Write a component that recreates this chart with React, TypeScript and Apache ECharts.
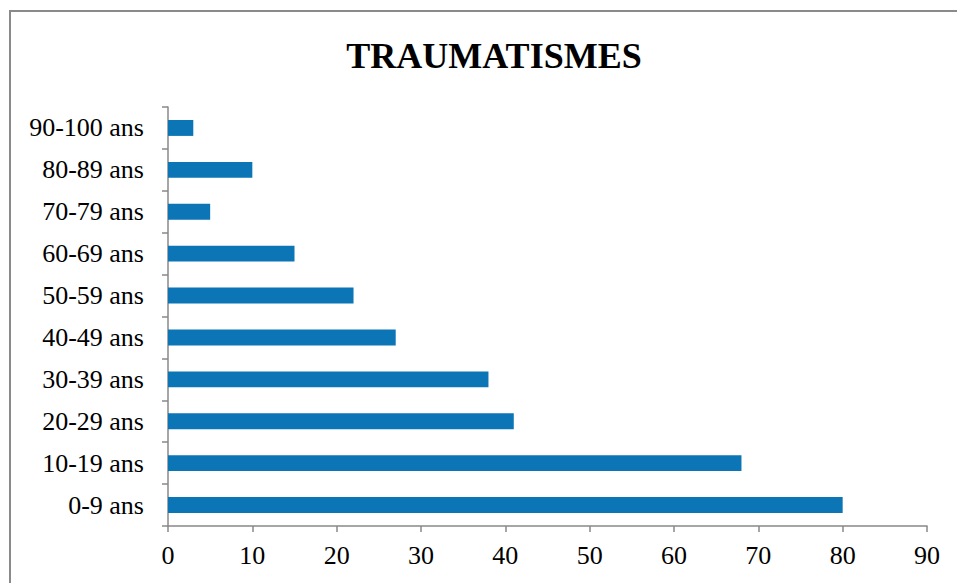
import React, { useEffect, useRef } from "react";
import * as echarts from "echarts";

const categories = [
  "0-9 ans",
  "10-19 ans",
  "20-29 ans",
  "30-39 ans",
  "40-49 ans",
  "50-59 ans",
  "60-69 ans",
  "70-79 ans",
  "80-89 ans",
  "90-100 ans",
];
const values = [80, 68, 41, 38, 27, 22, 15, 5, 10, 3];
const titleText = "TRAUMATISMES";
const xMin = 0;
const xMax = 90;
const xInterval = 10;

export default function App() {
  const ref = useRef<HTMLDivElement>(null);
  useEffect(() => {
    if (!ref.current) return;
    const chart = echarts.init(ref.current, undefined, { renderer: "svg" });
    const font = "'Liberation Serif', 'Times New Roman', serif";
    chart.setOption({
      animation: false,
      backgroundColor: "#ffffff",
      title: {
        text: titleText,
        left: 489,
        top: 33,
        textAlign: "center",
        textStyle: { fontFamily: font, fontSize: 36, fontWeight: "bold", color: "#000" },
      },
      graphic: [
        {
          type: "rect",
          shape: { x: 10, y: 11, width: 1000, height: 1000 },
          style: { fill: "none", stroke: "#8a8a8a", lineWidth: 2 },
          silent: true,
        },
      ],
      grid: { left: 168, right: 30, top: 107, bottom: 57, containLabel: false },
      xAxis: {
        type: "value",
        min: xMin,
        max: xMax,
        interval: xInterval,
        splitLine: { show: false },
        axisLine: { show: true, lineStyle: { color: "#888888", width: 1.5 } },
        axisTick: { show: true, length: 6, lineStyle: { color: "#888888", width: 1.5 } },
        axisLabel: { fontFamily: font, fontSize: 26, color: "#000", margin: 16 },
      },
      yAxis: {
        type: "category",
        data: categories,
        axisLine: { show: true, lineStyle: { color: "#888888", width: 1.5 } },
        axisTick: { show: true, length: 6, lineStyle: { color: "#888888", width: 1.5 } },
        axisLabel: { fontFamily: font, fontSize: 26, color: "#000", margin: 24 },
      },
      series: [
        {
          type: "bar",
          data: values,
          barWidth: "38%",
          itemStyle: { color: "#0b75b6" },
        },
      ],
    });
    return () => chart.dispose();
  }, []);
  return (
    <div
      ref={ref}
      style={{ position: "absolute", left: 0, top: 0, width: 957, height: 583 }}
    />
  );
}
